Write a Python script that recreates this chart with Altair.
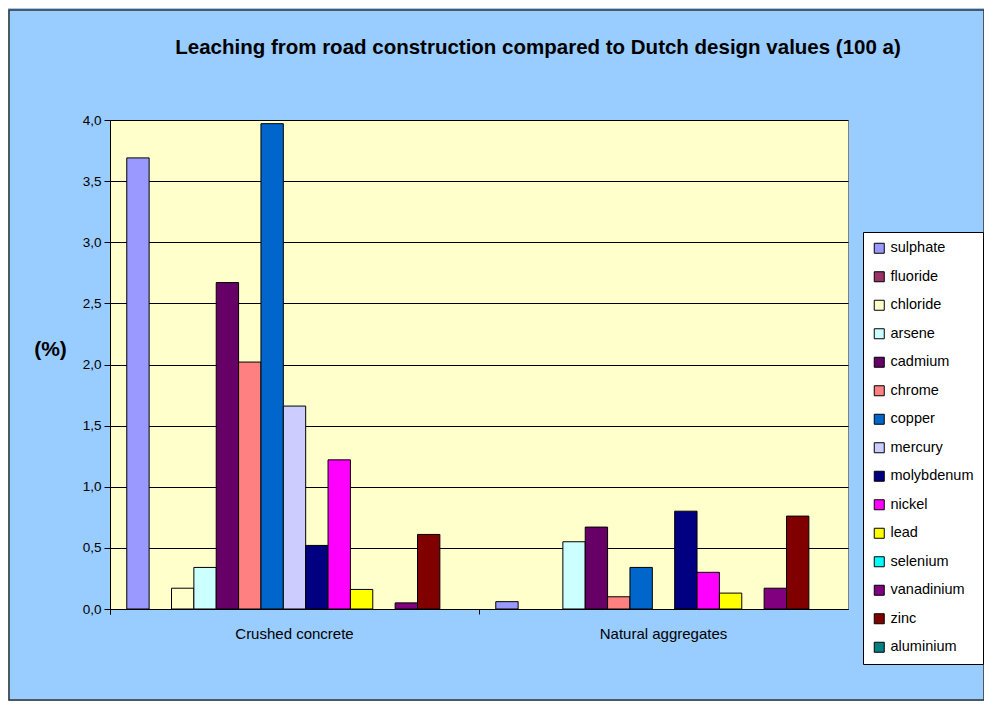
import altair as alt
import pandas as pd

groups = ["Crushed concrete", "Natural aggregates"]
substances = ["sulphate", "fluoride", "chloride", "arsene", "cadmium", "chrome",
              "copper", "mercury", "molybdenum", "nickel", "lead", "selenium",
              "vanadinium", "zinc", "aluminium"]
colors = ["#9999FF", "#993366", "#FFFFCC", "#CCFFFF", "#660066", "#FF8080",
          "#0066CC", "#CCCCFF", "#000080", "#FF00FF", "#FFFF00", "#00FFFF",
          "#800080", "#800000", "#008080"]
crushed = [3.69, 0.0, 0.17, 0.34, 2.67, 2.02, 3.97, 1.66, 0.52, 1.22, 0.16, 0.0, 0.05, 0.61, 0.0]
natural = [0.06, 0.0, 0.0, 0.55, 0.67, 0.10, 0.34, 0.0, 0.80, 0.30, 0.13, 0.0, 0.17, 0.76, 0.0]
y_ticks = [0, 0.5, 1.0, 1.5, 2.0, 2.5, 3.0, 3.5, 4.0]

rows = []
for g, vals in zip(groups, [crushed, natural]):
    for s, v in zip(substances, vals):
        rows.append({"group": g, "substance": s, "value": v})
df = pd.DataFrame(rows)

FONT = "Liberation Sans"

bars = alt.Chart(df).transform_filter("datum.value > 0").mark_bar(
    stroke="black", strokeWidth=1
).encode(
    x=alt.X("group:N", sort=groups, title=None,
            scale=alt.Scale(paddingInner=0, paddingOuter=0),
            axis=alt.Axis(labelAngle=0, labelFontSize=15, labelFont=FONT, labelColor="black",
                          domainColor="black", tickColor="black", tickSize=5,
                          bandPosition=0, tickExtra=True, labelPadding=12, grid=False)),
    xOffset=alt.XOffset("substance:N", sort=substances,
                        scale=alt.Scale(domain=substances, paddingInner=0, paddingOuter=0.75)),
    y=alt.Y("value:Q", title="(%)",
            scale=alt.Scale(domain=[0, 4], nice=False),
            axis=alt.Axis(values=y_ticks,
                          labelExpr="replace(format(datum.value, '.1f'), '.', ',')",
                          labelFontSize=13.5, labelFont=FONT, labelColor="black",
                          domainColor="black", tickColor="black", tickSize=6, labelPadding=3,
                          gridColor="black", gridWidth=1, grid=True,
                          titleAngle=0, titleFontSize=21, titleFont=FONT, titleFontWeight="bold",
                          titleColor="black", titleX=-60, titleY=229, titleAlign="center",
                          titleBaseline="middle")),
    color=alt.Color("substance:N", sort=substances,
                    scale=alt.Scale(domain=substances, range=colors),
                    legend=alt.Legend(title=None, orient="none", legendX=753, legendY=112,
                                      fillColor="white", strokeColor="black", padding=9,
                                      symbolType="square", symbolSize=100,
                                      symbolStrokeColor="black", symbolStrokeWidth=1,
                                      labelFontSize=14.5, labelFont=FONT, labelColor="black",
                                      rowPadding=12.5, labelOffset=4, symbolOpacity=1)),
)

frame = alt.Chart(alt.Data(values=[{}])).mark_rect(
    filled=False, stroke="#333333", strokeWidth=1.5
).encode(
    x=alt.value(-101), x2=alt.value(874), y=alt.value(-110), y2=alt.value(580)
)

chart = alt.layer(bars, frame).properties(
    width=738, height=489,
    title=alt.TitleParams(
        "Leaching from road construction compared to Dutch design values (100 a)",
        font=FONT, fontSize=20.5, fontWeight="bold", color="black",
        anchor="middle", dx=59, offset=-49),
    autosize=alt.AutoSizeParams(type="none"),
    padding={"left": 102, "top": 112, "right": 136, "bottom": 92},
    background="#99CCFF",
).configure_view(
    fill="#FFFFCC", stroke="#808080", strokeWidth=1
)

chart.save("out.html", embed_options={"renderer": "svg", "actions": False})
